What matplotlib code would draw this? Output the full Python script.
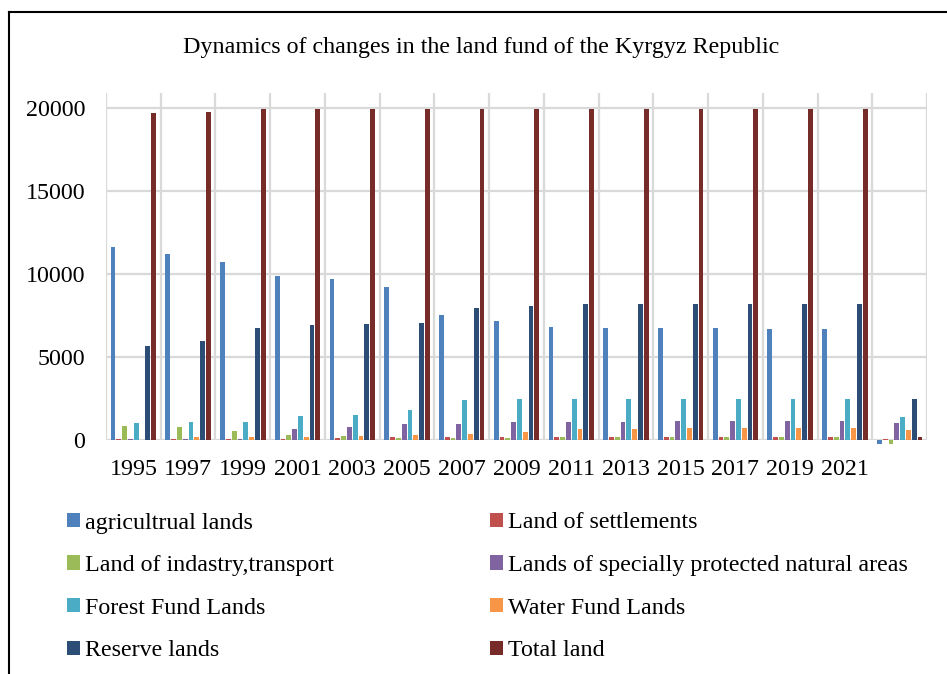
import numpy as np
import matplotlib
matplotlib.use("Agg")
import matplotlib.pyplot as plt
from matplotlib.patches import Patch
from matplotlib.lines import Line2D

plt.rcParams['font.family'] = ['Liberation Serif', 'DejaVu Serif']

years = ['1995', '1997', '1999', '2001', '2003', '2005', '2007', '2009',
         '2011', '2013', '2015', '2017', '2019', '2021', '']

agricultural = [11650, 11210, 10745, 9900, 9715, 9215, 7580, 7180, 6855, 6800, 6775, 6775, 6735, 6735, -200]
settlements = [60, 60, 60, 60, 120, 200, 200, 200, 220, 220, 230, 230, 230, 230, 100]
industry = [850, 800, 580, 300, 240, 170, 170, 170, 180, 180, 190, 190, 190, 190, -200]
protected = [60, 100, 100, 685, 785, 970, 990, 1090, 1130, 1130, 1170, 1170, 1170, 1170, 1030]
forest = [1045, 1130, 1130, 1450, 1510, 1810, 2430, 2480, 2480, 2480, 2490, 2490, 2490, 2490, 1410]
water = [20, 180, 180, 200, 240, 300, 380, 480, 665, 685, 750, 750, 750, 750, 650]
reserve = [5690, 5970, 6800, 6980, 7020, 7100, 7990, 8110, 8205, 8205, 8245, 8225, 8245, 8245, 2520]
total = [19720, 19780, 19995, 19995, 19995, 19995, 19995, 19995, 19995, 19995, 19995, 19995, 19995, 19995, 220]

series = [agricultural, settlements, industry, protected, forest, water, reserve, total]
names = ['agricultrual lands', 'Land of settlements', 'Land of indastry,transport',
         'Lands of specially protected natural areas', 'Forest Fund Lands',
         'Water Fund Lands', 'Reserve lands', 'Total land']
colors = ['#4F81BD', '#C0504D', '#9BBB59', '#8064A2', '#4BACC6', '#F79646', '#2C4D75', '#772C2A']

fs = 17.3

fig = plt.figure(figsize=(9.47, 6.74), dpi=100)
ax = fig.add_axes([106 / 947, 1 - 440.4 / 674, (927 - 106) / 947, (440.4 - 93) / 674])

x = np.arange(len(years))
pitch = 0.106
for i, (vals, c) in enumerate(zip(series, colors)):
    ax.bar(x + (i - 3.5) * pitch, vals, width=0.088, color=c, zorder=3, clip_on=False)

grid = '#d9d9d9'
for yv in range(0, 20001, 5000):
    ax.axhline(yv, color=grid, lw=1.6, zorder=1)
for xv in np.arange(-0.5, len(years), 1.0):
    ax.axvline(xv, color=grid, lw=1.6, zorder=1)

ax.set_xlim(-0.5, len(years) - 0.5)
ax.set_ylim(0, 20934)
ax.set_yticks(range(0, 20001, 5000))
ax.set_xticks(x)
ax.set_xticklabels(years)
ax.tick_params(length=0, labelsize=fs)
ax.tick_params(axis='y', pad=15)
ax.tick_params(axis='x', pad=13.5)
for s in ax.spines.values():
    s.set_visible(False)

fig.text(481 / 947, 1 - 47 / 674, 'Dynamics of changes in the land fund of the Kyrgyz Republic',
         ha='center', va='center', fontsize=fs)

# outer border (cropped at right and bottom)
fig.add_artist(Line2D([9 / 947, 9 / 947], [0, 1 - 12 / 674], color='black', lw=1.5, transform=fig.transFigure))
fig.add_artist(Line2D([9 / 947, 1], [1 - 12 / 674, 1 - 12 / 674], color='black', lw=1.5, transform=fig.transFigure))

handles = [Patch(facecolor=c, edgecolor='none') for c in colors]
kw = dict(frameon=False, fontsize=fs, handlelength=0.55, handleheight=0.55,
          handletextpad=0.2, labelspacing=0.9, borderpad=0, borderaxespad=0, loc='upper left')
fig.legend([handles[i] for i in (0, 2, 4, 6)], [names[i] for i in (0, 2, 4, 6)],
           bbox_to_anchor=(67 / 947, 1 - 512.5 / 674), **kw)
fig.legend([handles[i] for i in (1, 3, 5, 7)], [names[i] for i in (1, 3, 5, 7)],
           bbox_to_anchor=(490 / 947, 1 - 512.5 / 674), **kw)

fig.savefig('out.png', dpi=100)
